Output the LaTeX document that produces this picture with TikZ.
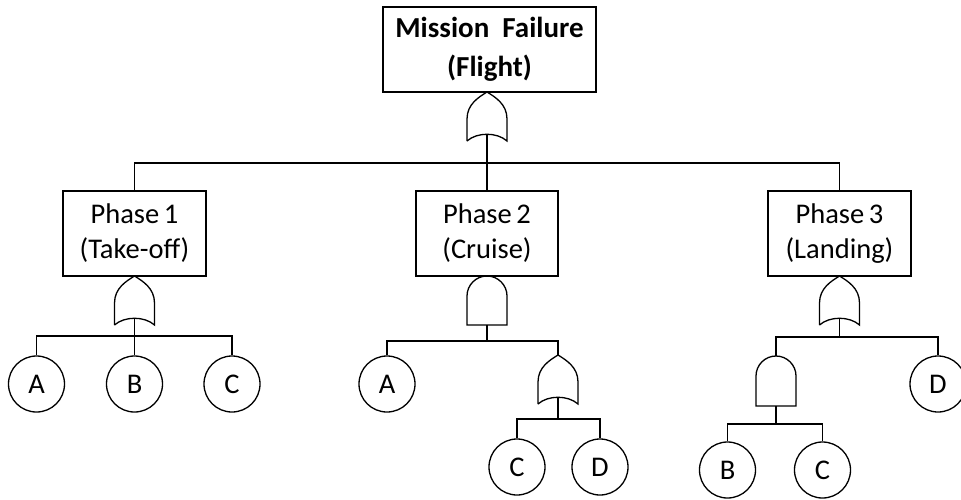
\documentclass[tikz,border=0pt]{standalone}
\usepackage{fontspec}
\setmainfont{Carlito}
\newcommand\orgate[3]{%
  \draw ({#2-20},{#3+49}) -- ({#2-20},{#3+27})
    .. controls ({#2-20},{#3+12}) and ({#2-8},{#3+5}) .. ({#2},{#3})
    .. controls ({#2+8},{#3+5}) and ({#2+20},{#3+12}) .. ({#2+20},{#3+27})
    -- ({#2+20},{#3+49})
    .. controls ({#2+10},{#3+40}) and ({#2-10},{#3+40}) .. ({#2-20},{#3+49});
  \coordinate (#1-out) at ({#2},{#3+42});
  \coordinate (#1-in) at ({#2},{#3});}
\newcommand\andgate[4]{%
  \draw ({#2-20},{#4}) -- ({#2-20},{#3+20})
    .. controls ({#2-20},{#3+9}) and ({#2-11},{#3}) .. ({#2},{#3})
    .. controls ({#2+11},{#3}) and ({#2+20},{#3+9}) .. ({#2+20},{#3+20})
    -- ({#2+20},{#4}) -- cycle;
  \coordinate (#1-out) at ({#2},{#4});
  \coordinate (#1-in) at ({#2},{#3});}
\begin{document}
\begin{tikzpicture}[x=1pt,y=-1pt,line width=1.3pt,
  evt/.style={draw,rectangle,minimum width=143pt,minimum height=85pt,inner sep=0pt,align=center,font=\fontsize{28.5}{35}\selectfont},
  topevt/.style={draw,rectangle,minimum width=213pt,minimum height=85pt,inner sep=0pt,align=center,font=\fontsize{29}{39}\selectfont\bfseries},
  basic/.style={draw,circle,minimum size=56pt,inner sep=0pt,font=\fontsize{28.5}{35}\selectfont}]
\useasboundingbox (0,0) rectangle (961,499);
% events
\node[topevt] (top) at (489.5,49.5) {\raisebox{-4pt}{\begin{tabular}{@{}c@{}}Mission\ \ Failure\\(Flight)\end{tabular}}};
\node[evt] (P1) at (134.5,233.5) {Phase\,1\\(Take-off)};
\node[evt,minimum width=142pt] (P2) at (487,233.5) {Phase\,2\\(Cruise)};
\node[evt] (P3) at (839.5,233.5) {Phase\,3\\(Landing)};
% basic events
\node[basic] (A1) at (36.5,384) {A};
\node[basic] (B1) at (134.5,384) {B};
\node[basic] (C1) at (232,384) {C};
\node[basic] (A2) at (387,384) {A};
\node[basic] (C2) at (517,467) {C};
\node[basic] (D2) at (600,467) {D};
\node[basic] (B3) at (727.5,470) {B};
\node[basic] (C3) at (822.5,470) {C};
\node[basic] (D3) at (938,384) {D};
% gates
\orgate{G0}{487}{92}
\orgate{G1}{134.5}{276}
\andgate{G2}{487}{276}{325}
\orgate{G21}{558}{355}
\orgate{G3}{839.5}{276}
\andgate{G31}{776}{356}{406}
% buses
\coordinate (bus0) at (487,163);
\coordinate (bus1) at (134.5,336);
\coordinate (bus2) at (487,341);
\coordinate (bus21) at (558,419);
\coordinate (bus3) at (839.5,337);
\coordinate (bus31) at (776,424);
% connectors
\draw (G0-out) -- (bus0) -- (P2.north);
\draw (P1.north) |- (bus0) -| (P3.north);
\draw (G1-out) -- (bus1) -- (B1.north);
\draw (A1.north) |- (bus1) -| (C1.north);
\draw (G2-out) -- (bus2);
\draw (A2.north) |- (bus2) -| (G21-in);
\draw (G21-out) -- (bus21);
\draw (C2.north) |- (bus21) -| (D2.north);
\draw (G3-out) -- (bus3);
\draw (G31-in) |- (bus3) -| (D3.north);
\draw (G31-out) -- (bus31);
\draw (B3.north) |- (bus31) -| (C3.north);
\end{tikzpicture}
\end{document}
